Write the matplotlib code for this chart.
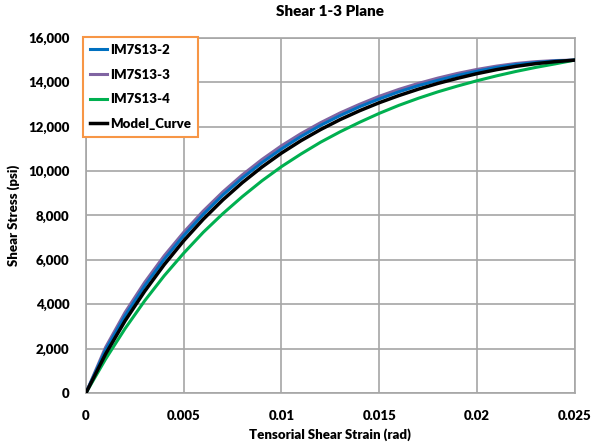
import matplotlib
matplotlib.use('Agg')
import matplotlib.pyplot as plt
from matplotlib.ticker import FuncFormatter

# strain values (rad)
strain = [0, 0.001, 0.002, 0.003, 0.004, 0.005, 0.006, 0.007, 0.008, 0.009,
          0.010, 0.011, 0.012, 0.013, 0.014, 0.015, 0.016, 0.017, 0.018,
          0.019, 0.020, 0.021, 0.022, 0.023, 0.024, 0.025]

# shear stress (psi)
im7s13_2 = [0, 1930, 3480, 4820, 6020, 7090, 8050, 8920, 9690, 10380,
            11000, 11560, 12060, 12500, 12900, 13250, 13570, 13850, 14090,
            14310, 14500, 14670, 14800, 14890, 14960, 15000]
im7s13_3 = [0, 2050, 3630, 4980, 6180, 7240, 8200, 9060, 9830, 10520,
            11140, 11690, 12180, 12620, 13010, 13370, 13680, 13950, 14190,
            14400, 14580, 14730, 14850, 14930, 14980, 15000]
im7s13_4 = [0, 1520, 2900, 4150, 5280, 6300, 7240, 8080, 8850, 9560,
            10200, 10770, 11300, 11770, 12200, 12600, 12960, 13280, 13570,
            13830, 14070, 14290, 14490, 14670, 14830, 15000]
model_curve = [0, 1750, 3250, 4580, 5780, 6860, 7830, 8700, 9480, 10180,
               10810, 11370, 11870, 12320, 12720, 13080, 13400, 13690, 13950,
               14180, 14390, 14570, 14720, 14840, 14930, 15000]

plt.rcParams['font.family'] = ['Lato', 'DejaVu Sans']

fig = plt.figure(figsize=(5.95, 4.46), dpi=100)
ax = fig.add_axes([0.1445, 0.119, 0.8215, 0.796])

# Plot the curves
ax.plot(strain, im7s13_2, color='#0070c0', lw=2.2, label='IM7S13-2', zorder=4)
ax.plot(strain, im7s13_3, color='#8064a2', lw=2.2, label='IM7S13-3', zorder=3)
ax.plot(strain, im7s13_4, color='#00b050', lw=2.2, label='IM7S13-4', zorder=3)
ax.plot(strain, model_curve, color='black', lw=2.5, label='Model_Curve', zorder=5)

ax.set_xlim(0, 0.025)
ax.set_ylim(0, 16000)
ax.set_xticks([0, 0.005, 0.01, 0.015, 0.02, 0.025])
ax.set_xticklabels(['0', '0.005', '0.01', '0.015', '0.02', '0.025'])
ax.set_yticks(range(0, 16001, 2000))
ax.yaxis.set_major_formatter(FuncFormatter(lambda v, p: f'{int(v):,}'))

ax.grid(True, color='#a6a6a6', lw=1.2)
ax.set_axisbelow(True)
for s in ax.spines.values():
    s.set_color('#a6a6a6')
    s.set_linewidth(1.2)
ax.tick_params(axis='x', length=0, pad=12, labelsize=9.5)
ax.tick_params(axis='y', length=0, pad=12, labelsize=9.5)
for t in ax.get_xticklabels() + ax.get_yticklabels():
    t.set_fontweight('heavy')

ax.set_xlabel('Tensorial Shear Strain (rad)', fontsize=9.5, fontweight='heavy', labelpad=5)
ax.set_ylabel('Shear Stress (psi)', fontsize=9.5, fontweight='heavy', labelpad=6)
ax.set_title('Shear 1-3 Plane', fontsize=11, fontweight='heavy', pad=16)

leg = ax.legend(loc='upper left', bbox_to_anchor=(-0.006, 1.003), fancybox=False,
                frameon=True, handlelength=1.3, handletextpad=0.2,
                borderpad=0.55, labelspacing=0.95, borderaxespad=0,
                prop={'weight': 'heavy', 'size': 9.5})
leg.get_frame().set_edgecolor('#f79646')
leg.get_frame().set_linewidth(1.5)
leg.get_frame().set_alpha(1)

plt.savefig('out.png', dpi=100)
